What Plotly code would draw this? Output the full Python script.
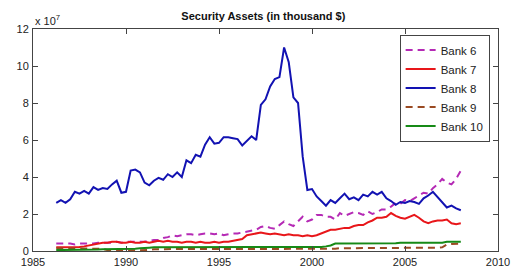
import plotly.graph_objects as go

# ---- data (values in units of 1e7 thousand $), quarterly from 1986.25 to 2008.0 ----
START_YEAR = 1986.25
STEP = 0.25
SCALE_LABEL = "x 10<sup>7</sup>"

bank6 = [0.40, 0.40, 0.40,
         0.40, 0.35, 0.40, 0.40,
         0.40, 0.40, 0.45, 0.45,
         0.45, 0.45, 0.50, 0.45,
         0.50, 0.50, 0.50, 0.50,
         0.50, 0.55, 0.60, 0.60,
         0.70, 0.75, 0.85, 0.80,
         0.85, 0.90, 0.90, 0.85,
         0.90, 0.95, 0.95, 0.90,
         0.95, 0.85, 0.90, 0.95,
         0.95, 1.00, 1.05, 1.10,
         1.15, 1.30, 1.35, 1.25,
         1.20, 1.40, 1.60, 1.45,
         1.35, 1.60, 1.85, 1.60,
         1.70, 1.95, 1.95, 1.85,
         1.85, 1.70, 2.05, 1.90,
         2.00, 2.10, 2.05, 1.95,
         2.15, 2.00, 2.10, 2.25,
         2.25, 2.40, 2.60, 2.55,
         2.75, 2.70, 2.85, 3.00,
         3.15, 3.10, 3.40, 3.60,
         3.90, 3.70, 3.60, 3.90,
         4.35]

bank7 = [0.20, 0.20, 0.20,
         0.22, 0.20, 0.22, 0.25,
         0.30, 0.35, 0.40, 0.45,
         0.45, 0.50, 0.50, 0.45,
         0.45, 0.50, 0.45, 0.45,
         0.50, 0.45, 0.50, 0.55,
         0.50, 0.55, 0.50, 0.50,
         0.45, 0.50, 0.50, 0.45,
         0.50, 0.45, 0.45, 0.50,
         0.45, 0.50, 0.50, 0.55,
         0.60, 0.65, 0.85, 0.90,
         0.95, 1.00, 0.95, 0.90,
         0.95, 0.90, 0.85, 0.90,
         0.85, 0.85, 0.80, 0.85,
         0.80, 0.85, 0.95, 1.05,
         1.15, 1.15, 1.20, 1.25,
         1.25, 1.35, 1.40, 1.40,
         1.55, 1.65, 1.80, 1.80,
         1.85, 2.05, 1.90, 1.80,
         1.75, 1.85, 1.95, 1.80,
         1.60, 1.50, 1.60, 1.65,
         1.65, 1.70, 1.50, 1.45,
         1.50]

bank8 = [2.60, 2.75, 2.60,
         2.80, 3.20, 3.10, 3.25,
         3.10, 3.45, 3.30, 3.40,
         3.35, 3.60, 3.80, 3.15,
         3.20, 4.35, 4.40, 4.25,
         3.70, 3.55, 3.80, 3.95,
         3.85, 4.15, 4.00, 4.25,
         4.00, 4.90, 4.75, 5.20,
         5.10, 5.75, 6.15, 5.80,
         5.85, 6.15, 6.15, 6.10,
         6.05, 5.70, 5.95, 6.20,
         6.00, 7.90, 8.20, 8.90,
         9.30, 9.40, 11.00, 10.20,
         8.30, 8.00, 5.10, 3.30,
         3.35, 2.95, 2.70, 2.45,
         2.75, 2.60, 2.85, 3.10,
         2.80, 2.90, 2.75, 3.05,
         2.95, 3.20, 3.05, 3.20,
         2.85, 2.70, 2.50, 2.65,
         2.60, 2.70, 2.65, 2.55,
         2.85, 3.00, 3.20, 2.90,
         2.60, 2.35, 2.45, 2.30,
         2.20]

bank9 = [0.15, 0.15, 0.15,
         0.15, 0.15, 0.15, 0.15,
         0.15, 0.15, 0.15, 0.12,
         0.05, 0.03, 0.03, 0.03,
         0.03, 0.03, 0.03, 0.03,
         0.05, 0.05, 0.10, 0.10,
         0.10, 0.10, 0.10, 0.10,
         0.10, 0.10, 0.10, 0.10,
         0.10, 0.10, 0.10, 0.10,
         0.10, 0.10, 0.10, 0.10,
         0.10, 0.10, 0.10, 0.10,
         0.12, 0.12, 0.12, 0.12,
         0.12, 0.12, 0.12, 0.12,
         0.10, 0.10, 0.10, 0.10,
         0.10, 0.10, 0.10, 0.10,
         0.12, 0.12, 0.15, 0.15,
         0.15, 0.15, 0.15, 0.15,
         0.15, 0.15, 0.15, 0.18,
         0.18, 0.18, 0.18, 0.18,
         0.18, 0.18, 0.18, 0.18,
         0.18, 0.18, 0.18, 0.18,
         0.20, 0.35, 0.38, 0.38,
         0.40]

bank10 = [0.05, 0.05, 0.05,
          0.05, 0.05, 0.05, 0.05,
          0.05, 0.05, 0.08, 0.10,
          0.10, 0.10, 0.12, 0.12,
          0.10, 0.12, 0.12, 0.15,
          0.15, 0.18, 0.20, 0.20,
          0.20, 0.20, 0.20, 0.20,
          0.20, 0.22, 0.22, 0.20,
          0.20, 0.22, 0.22, 0.22,
          0.22, 0.22, 0.22, 0.22,
          0.22, 0.22, 0.22, 0.22,
          0.22, 0.22, 0.22, 0.22,
          0.22, 0.22, 0.22, 0.22,
          0.22, 0.22, 0.22, 0.22,
          0.22, 0.22, 0.22, 0.25,
          0.30, 0.40, 0.40, 0.40,
          0.40, 0.40, 0.42, 0.42,
          0.42, 0.42, 0.42, 0.42,
          0.42, 0.42, 0.42, 0.45,
          0.45, 0.45, 0.45, 0.45,
          0.45, 0.45, 0.45, 0.45,
          0.45, 0.50, 0.50, 0.48,
          0.50]

series_names = ["Bank 6", "Bank 7", "Bank 8", "Bank 9", "Bank 10"]
x_ticks = [1985, 1990, 1995, 2000, 2005, 2010]
y_ticks = [0, 2, 4, 6, 8, 10, 12]

years = [START_YEAR + STEP * i for i in range(len(bank8))]

styles = [
    dict(color="#b52ab5", dash="7px,5px"),
    dict(color="#e8161a", dash="solid"),
    dict(color="#1212b2", dash="solid"),
    dict(color="#9a4a22", dash="7px,5px"),
    dict(color="#168a16", dash="solid"),
]

fig = go.Figure()
for name, vals, st in zip(series_names, [bank6, bank7, bank8, bank9, bank10], styles):
    fig.add_trace(go.Scatter(
        x=years[:len(vals)], y=vals, mode="lines", name=name,
        line=dict(color=st["color"], width=2, dash=st["dash"]),
    ))

axis_common = dict(
    showgrid=False, zeroline=False, showline=True, linecolor="#444",
    linewidth=1, mirror="ticks", ticks="inside", ticklen=5, tickcolor="#444",
    automargin=False,
    tickfont=dict(family="Liberation Sans, Arial", size=11, color="#222"),
)

# page body has an 8px default margin, so the figure is sized/offset to compensate
fig.update_layout(
    width=518, height=262,
    margin=dict(l=25, r=28, t=21, b=19),
    paper_bgcolor="white", plot_bgcolor="white",
    title=dict(text="<b>Security Assets (in thousand $)</b>", xref="container",
               x=0.493, xanchor="center", yref="container", y=0.969, yanchor="middle",
               font=dict(family="Liberation Sans, Arial", size=11, color="#111")),
    xaxis=dict(range=[1985, 2010], tickvals=x_ticks, ticklabelstandoff=1, **axis_common),
    yaxis=dict(range=[0, 12], tickvals=y_ticks, ticklabelstandoff=1, **axis_common),
    legend=dict(x=0.982, y=0.975, xanchor="right", yanchor="top",
                bgcolor="white", bordercolor="#444", borderwidth=1,
                font=dict(family="Liberation Sans, Arial", size=11.5, color="#222"),
                tracegroupgap=0, itemwidth=30),
    showlegend=True,
)

fig.add_annotation(text=SCALE_LABEL, xref="paper", yref="paper", x=0.0, y=1.0,
                   xanchor="left", yanchor="bottom", showarrow=False,
                   font=dict(family="Liberation Sans, Arial", size=11, color="#222"))

fig.write_html("out.html")
